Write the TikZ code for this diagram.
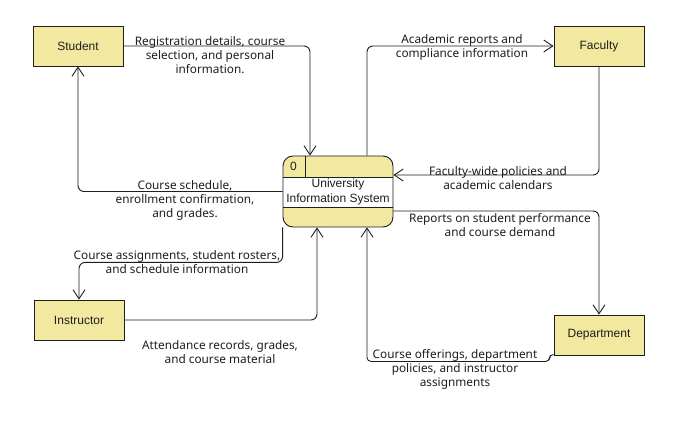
\documentclass[tikz,border=0pt]{standalone}
\usepackage{fontspec}
\setmainfont{Noto Sans}
\newfontfamily\entfont{Liberation Sans}
\usetikzlibrary{arrows.meta,calc}
\definecolor{entyellow}{RGB}{243,232,160}
\definecolor{inkgray}{RGB}{30,30,30}

\begin{document}
\begin{tikzpicture}[
    x=1pt, y=-1pt,
    line width=0.9pt, color=inkgray,
    ent/.style={draw, fill=entyellow, minimum width=90pt, minimum height=40pt,
                inner sep=0pt, font=\entfont\fontsize{12}{14}\selectfont},
    proc/.style={draw, fill=entyellow, rounded corners=10pt, minimum width=110pt,
                 minimum height=71pt, align=center, inner sep=0pt,
                 font=\entfont\fontsize{12}{15}\selectfont,
                 path picture={
                   \coordinate (ppnw) at (path picture bounding box.north west);
                   \coordinate (ppse) at (path picture bounding box.south east);
                   \draw[sharp corners, fill=white] ($(ppnw)+(-2,21)$) rectangle ($(ppse)+(2,-20)$);
                   \draw ($(ppnw)+(22,0)$) -- ($(ppnw)+(22,21)$);
                 }},
    lbl/.style={align=center, inner sep=0pt, font=\fontsize{11.8}{14}\selectfont},
    flow/.style={-{Straight Barb[length=9pt,width=12pt]}, rounded corners=6pt},
  ]
  \path[use as bounding box, fill=white] (0,0) rectangle (699,422);

  % ===== process and external entities =====
  \node[proc] (uis) at (338,191.5) {University\\Information System};
  \node[font=\entfont\fontsize{12}{14}\selectfont] (uisnum) at ($(uis.north west)+(11,11)$) {0};

  \node[ent] (student) at (78,46) {Student};
  \node[ent] (faculty) at (599,46) {Faculty};
  \node[ent] (instructor) at (79,320) {Instructor};
  \node[ent] (department) at (599,335) {Department};

  % ===== data flows =====
  \draw[flow] (student.east) -| ([xshift=-28pt]uis.north);
  \draw[flow] (uis.west) -| (student.south);
  \draw[flow] ([xshift=29pt]uis.north) |- (faculty.west);
  \draw[flow] (faculty.south) |- ([yshift=16.5pt]uis.east);
  \draw[flow] ([yshift=-19.5pt]uis.east) -| (department.north);
  \draw[flow] (uis.south west) -- ++(0,35) -| (instructor.north);
  \draw[flow] (instructor.east) -| ([xshift=-21pt]uis.south);
  \draw[flow, rounded corners=4pt] ([yshift=1pt]department.south west) -- ++(-4,0)
        -- ++(0,7) -| ([xshift=29pt]uis.south);

  % ===== flow labels =====
  \node[lbl] (regLbl) at (210,55) {Registration details, course\\selection, and personal\\information.};
  \node[lbl] (acadLbl) at (462,47) {Academic reports and\\compliance information};
  \node[lbl] (schedLbl) at (185,200) {Course schedule,\\enrollment confirmation,\\and grades.};
  \node[lbl] (polLbl) at (498,178) {Faculty-wide policies and\\academic calendars};
  \node[lbl] (repLbl) at (500,225) {Reports on student performance\\and course demand};
  \node[lbl] (assignLbl) at (177,262) {Course assignments, student rosters,\\and schedule information};
  \node[lbl] (attLbl) at (220,352) {Attendance records, grades,\\and course material};
  \node[lbl] (offerLbl) at (455,369) {Course offerings, department\\policies, and instructor\\assignments};

\end{tikzpicture}
\end{document}
